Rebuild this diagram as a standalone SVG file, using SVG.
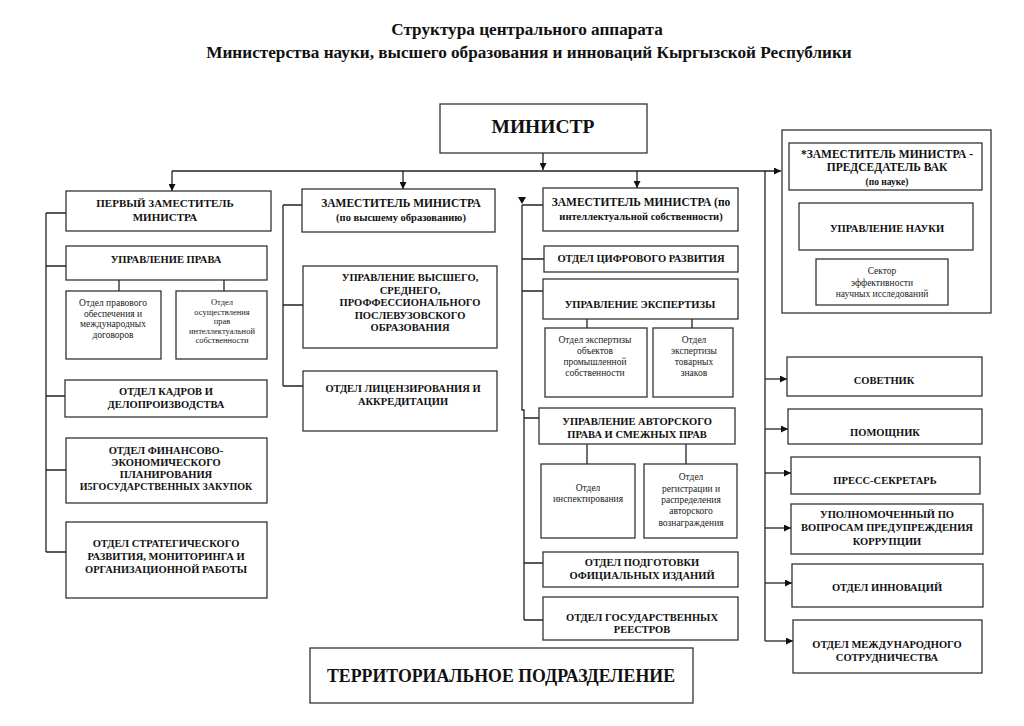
<svg xmlns="http://www.w3.org/2000/svg" width="1024" height="726" viewBox="0 0 1024 726">
<style>
.box{fill:#fff;stroke:#333;stroke-width:1.3}
.b{font-family:"Liberation Serif",serif;font-weight:bold;font-size:10.5px;text-anchor:middle;fill:#111}
.h{font-size:11.5px}
.r{font-family:"Liberation Serif",serif;font-size:9.5px;text-anchor:middle;fill:#222}
.t{font-family:"Liberation Serif",serif;font-weight:bold;font-size:17.2px;text-anchor:middle;fill:#111}
.ln{stroke:#222;stroke-width:1.3;fill:none}
.ar{stroke:#222;stroke-width:1.3;fill:none;marker-end:url(#arr)}
</style>
<defs>
<marker id="arr" viewBox="0 0 10 10" refX="10" refY="5" markerWidth="7" markerHeight="7" markerUnits="userSpaceOnUse" orient="auto"><path d="M0,0 L10,5 L0,10 z" fill="#111"/></marker>
</defs>
<rect width="1024" height="726" fill="#fff"/>
<g id="title">
<text class="t" x="527" y="35">Структура центрального аппарата</text>
<text class="t" x="529" y="58">Министерства науки, высшего образования и инноваций Кыргызской Республики</text>
</g>
<g id="connectors">
<path class="ar" d="M543,153 V170"/>
<path class="ar" d="M172,171 H781"/>
<path class="ar" d="M172,171 V191"/>
<path class="ar" d="M403,171 V189"/>
<path class="ar" d="M637,171 V188"/>
<path class="ln" d="M46,213 V552 M46,213 H66 M46,266 H66 M46,396 H65 M46,470 H66 M46,552 H66"/>
<path class="ln" d="M119,280 V291 M224,280 V291"/>
<path class="ln" d="M283,205 V386 M283,205 H302 M283,305 H303 M283,386 H303"/>
<polygon points="518,197 526,197 522,204" fill="#111"/>
<path class="ln" d="M522,205 V410 H524 V620 M522,205 H543 M522,259 H544 M522,291 H543 M524,418 H539 M524,563 H543 M524,620 H543"/>
<path class="ln" d="M587,319 V328 M692,319 V328 M587,444 V464 M686,444 V464"/>
<path class="ar" d="M885,190 V203"/>
<path class="ln" d="M885,250 V259"/>
<path class="ln" d="M765,171 V641"/>
<path class="ar" d="M765,379 H787"/>
<path class="ar" d="M765,429 H788"/>
<path class="ar" d="M765,473 H791"/>
<path class="ar" d="M765,528 H791"/>
<path class="ar" d="M765,583 H792"/>
<path class="ar" d="M765,641 H793"/>
</g>
<g id="minister"><rect class="box" x="440" y="104" width="207" height="49"/><text class="b" x="543" y="133" style="font-size:19.5px">МИНИСТР</text></g>
<g id="first-deputy"><rect class="box" x="66" y="191" width="205" height="40"/><text class="b" x="165" y="207" style="font-size:11px">ПЕРВЫЙ ЗАМЕСТИТЕЛЬ</text><text class="b" x="165" y="221" style="font-size:11px">МИНИСТРА</text></g>
<g id="upr-prava"><rect class="box" x="66" y="246" width="201" height="34"/><text class="b" x="166" y="263">УПРАВЛЕНИЕ ПРАВА</text></g>
<g id="otd-pravovogo"><rect class="box" x="66" y="291" width="95" height="68"/><text class="r" x="113" y="306">Отдел правового</text><text class="r" x="113" y="316.5">обеспечения и</text><text class="r" x="113" y="327">международных</text><text class="r" x="113" y="337.5">договоров</text></g>
<g id="otd-osush"><rect class="box" x="176" y="291" width="91" height="68"/><text class="r" x="222" y="305" style="font-size:8.5px">Отдел</text><text class="r" x="222" y="314.5" style="font-size:8.5px">осуществления</text><text class="r" x="222" y="324" style="font-size:8.5px">прав</text><text class="r" x="222" y="333.5" style="font-size:8.5px">интеллектуальной</text><text class="r" x="222" y="343" style="font-size:8.5px">собственности</text></g>
<g id="otd-kadrov"><rect class="box" x="65" y="380" width="202" height="37"/><text class="b" x="166" y="395">ОТДЕЛ КАДРОВ И</text><text class="b" x="166" y="408">ДЕЛОПРОИЗВОДСТВА</text></g>
<g id="otd-finans"><rect class="box" x="66" y="438" width="201" height="65"/><text class="b" x="166" y="454">ОТДЕЛ ФИНАНСОВО-</text><text class="b" x="166" y="466">ЭКОНОМИЧЕСКОГО</text><text class="b" x="166" y="478">ПЛАНИРОВАНИЯ</text><text class="b" x="166" y="490" style="font-size:10px">И5ГОСУДАРСТВЕННЫХ ЗАКУПОК</text></g>
<g id="otd-strateg"><rect class="box" x="66" y="522" width="201" height="76"/><text class="b" x="166" y="547">ОТДЕЛ СТРАТЕГИЧЕСКОГО</text><text class="b" x="166" y="560">РАЗВИТИЯ, МОНИТОРИНГА И</text><text class="b" x="166" y="573">ОРГАНИЗАЦИОННОЙ РАБОТЫ</text></g>
<g id="deputy-higher"><rect class="box" x="302" y="189" width="193" height="43"/><text class="b h" x="401" y="207">ЗАМЕСТИТЕЛЬ МИНИСТРА</text><text class="b" x="401" y="221">(по высшему образованию)</text></g>
<g id="upr-vysshego"><rect class="box" x="303" y="266" width="194" height="82"/><text class="b" x="410" y="281">УПРАВЛЕНИЕ ВЫСШЕГО,</text><text class="b" x="410" y="293.5">СРЕДНЕГО,</text><text class="b" x="410" y="306">ПРОФФЕССИОНАЛЬНОГО</text><text class="b" x="410" y="318.5">ПОСЛЕВУЗОВСКОГО</text><text class="b" x="410" y="331">ОБРАЗОВАНИЯ</text></g>
<g id="otd-licenz"><rect class="box" x="303" y="371" width="194" height="60"/><text class="b" x="403" y="392">ОТДЕЛ ЛИЦЕНЗИРОВАНИЯ И</text><text class="b" x="403" y="405">АККРЕДИТАЦИИ</text></g>
<g id="deputy-ip"><rect class="box" x="543" y="188" width="195" height="43"/><text class="b h" x="641" y="206">ЗАМЕСТИТЕЛЬ МИНИСТРА (по</text><text class="b" x="641" y="220">интеллектуальной собственности)</text></g>
<g id="otd-cifr"><rect class="box" x="544" y="246" width="194" height="26"/><text class="b" x="641" y="262">ОТДЕЛ ЦИФРОВОГО РАЗВИТИЯ</text></g>
<g id="upr-ekspert"><rect class="box" x="543" y="279" width="195" height="40"/><text class="b" x="640" y="308">УПРАВЛЕНИЕ ЭКСПЕРТИЗЫ</text></g>
<g id="otd-eksp-prom"><rect class="box" x="545" y="328" width="102" height="69"/><text class="r" x="595" y="343">Отдел экспертизы</text><text class="r" x="595" y="354">объектов</text><text class="r" x="595" y="365">промышленной</text><text class="r" x="595" y="376">собственности</text></g>
<g id="otd-eksp-tovar"><rect class="box" x="653" y="328" width="80" height="69"/><text class="r" x="694" y="343">Отдел</text><text class="r" x="694" y="354">экспертизы</text><text class="r" x="694" y="365">товарных</text><text class="r" x="694" y="376">знаков</text></g>
<g id="upr-avtor"><rect class="box" x="539" y="408" width="196" height="36"/><text class="b" x="637" y="425">УПРАВЛЕНИЕ АВТОРСКОГО</text><text class="b" x="637" y="438">ПРАВА И СМЕЖНЫХ ПРАВ</text></g>
<g id="otd-inspekt"><rect class="box" x="541" y="464" width="94" height="74"/><text class="r" x="588" y="491">Отдел</text><text class="r" x="588" y="502">инспектирования</text></g>
<g id="otd-registr"><rect class="box" x="644" y="464" width="93" height="74"/><text class="r" x="691" y="480">Отдел</text><text class="r" x="691" y="491.5">регистрации и</text><text class="r" x="691" y="503">распределения</text><text class="r" x="691" y="514">авторского</text><text class="r" x="691" y="525.5">вознаграждения</text></g>
<g id="otd-podgot"><rect class="box" x="543" y="552" width="195" height="35"/><text class="b" x="642" y="566">ОТДЕЛ ПОДГОТОВКИ</text><text class="b" x="642" y="579">ОФИЦИАЛЬНЫХ ИЗДАНИЙ</text></g>
<g id="otd-reestr"><rect class="box" x="543" y="597" width="195" height="43"/><text class="b" x="642" y="621">ОТДЕЛ ГОСУДАРСТВЕННЫХ</text><text class="b" x="642" y="633">РЕЕСТРОВ</text></g>
<g id="territorial"><rect class="box" x="310" y="648" width="383" height="55"/><text class="b" x="501" y="682" style="font-size:17.8px">ТЕРРИТОРИАЛЬНОЕ ПОДРАЗДЕЛЕНИЕ</text></g>
<g id="vak-frame"><rect class="box" x="782" y="130" width="209" height="183"/></g>
<g id="deputy-vak"><rect class="box" x="789" y="143" width="193" height="47"/><text class="b" x="887" y="158" style="font-size:11.5px">*ЗАМЕСТИТЕЛЬ МИНИСТРА -</text><text class="b" x="887" y="171" style="font-size:11.5px">ПРЕДСЕДАТЕЛЬ ВАК</text><text class="b" x="887" y="185" style="font-size:9.5px">(по науке)</text></g>
<g id="upr-nauki"><rect class="box" x="799" y="203" width="174" height="47"/><text class="b" x="887" y="232">УПРАВЛЕНИЕ НАУКИ</text></g>
<g id="sektor"><rect class="box" x="816" y="259" width="132" height="46"/><text class="r" x="882" y="274">Сектор</text><text class="r" x="882" y="286">эффективности</text><text class="r" x="882" y="297">научных исследований</text></g>
<g id="sovetnik"><rect class="box" x="787" y="357" width="195" height="39"/><text class="b" x="884" y="384">СОВЕТНИК</text></g>
<g id="pomoshnik"><rect class="box" x="788" y="409" width="194" height="35"/><text class="b" x="885" y="436">ПОМОЩНИК</text></g>
<g id="press"><rect class="box" x="791" y="457" width="189" height="37"/><text class="b" x="885" y="484">ПРЕСС-СЕКРЕТАРЬ</text></g>
<g id="upolnom"><rect class="box" x="791" y="504" width="192" height="50"/><text class="b" x="887" y="518">УПОЛНОМОЧЕННЫЙ ПО</text><text class="b" x="887" y="531">ВОПРОСАМ ПРЕДУПРЕЖДЕНИЯ</text><text class="b" x="887" y="545">КОРРУПЦИИ</text></g>
<g id="otd-innov"><rect class="box" x="792" y="564" width="191" height="43"/><text class="b" x="887" y="591">ОТДЕЛ ИННОВАЦИЙ</text></g>
<g id="otd-mezhd"><rect class="box" x="793" y="620" width="189" height="53"/><text class="b" x="887" y="648">ОТДЕЛ МЕЖДУНАРОДНОГО</text><text class="b" x="887" y="661">СОТРУДНИЧЕСТВА</text></g>
</svg>
